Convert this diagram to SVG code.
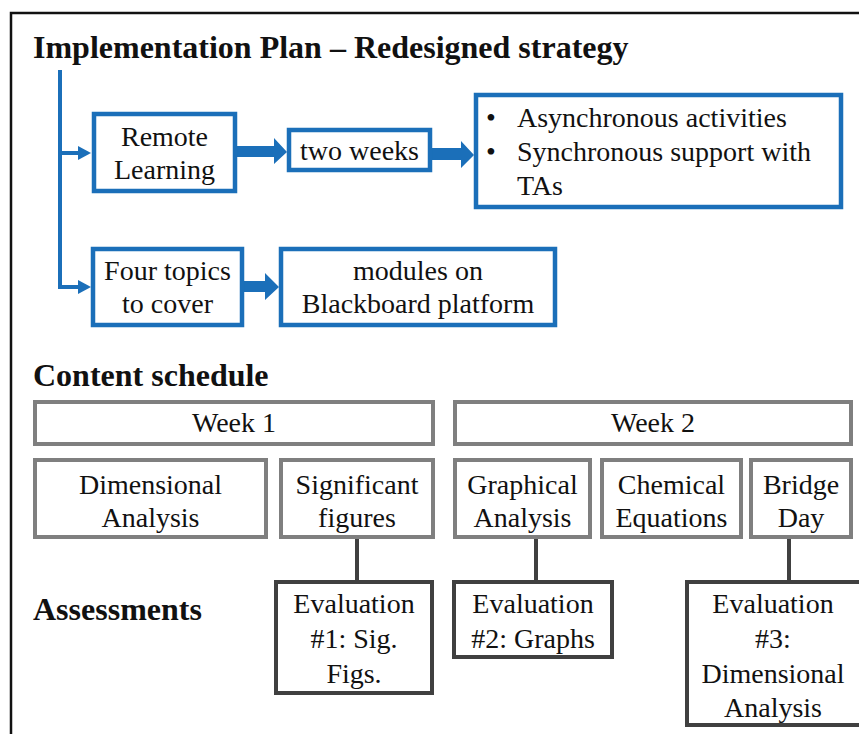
<svg xmlns="http://www.w3.org/2000/svg" width="859" height="734" viewBox="0 0 859 734">
<style>
text{font-family:'Liberation Serif','Times New Roman',Times,serif;fill:#111;}
.t{font-size:28px;text-anchor:middle;}
.l{font-size:28px;}
.h{font-size:32px;font-weight:bold;}
.b{fill:#fff;stroke:#1b6fb9;stroke-width:4.5;}
.g{fill:#fff;stroke:#7f7f7f;stroke-width:4;}
.e{fill:#fff;stroke:#404040;stroke-width:4;}
.bl{fill:none;stroke:#1b6fb9;stroke-width:4;}
.bf{fill:#1b6fb9;stroke:none;}
.ec{fill:none;stroke:#404040;stroke-width:4;}
</style>
<rect width="859" height="734" fill="#fff"/>
<path d="M11,734 V13 H859" fill="none" stroke="#111" stroke-width="2.5"/>
<text class="h" x="33" y="58">Implementation Plan – Redesigned strategy</text>
<text class="h" x="33" y="386">Content schedule</text>
<text class="h" x="33" y="620">Assessments</text>

<g id="connectors">
<path class="bl" d="M60,70 V287 H80"/>
<path class="bf" d="M78,280 L91,287 L78,294 z"/>
<path class="bl" d="M60,153 H80"/>
<path class="bf" d="M78,146 L91,153 L78,160 z"/>
<path class="bf" d="M236,146 H274 V138 L287,152 L274,164 V157 H236 z"/>
<path class="bf" d="M431,148 H461 V141 L474,155 L461,168 V160 H431 z"/>
<path class="bf" d="M243,281 H265 V273 L279,287 L265,300 V292 H243 z"/>
<path class="ec" d="M357,539 V580"/>
<path class="ec" d="M536,539 V580"/>
<path class="ec" d="M789,539 V580"/>
</g>

<g id="remote">
<rect class="b" x="94" y="114" width="141" height="77"/>
<text class="t" x="164.5" y="146">Remote</text>
<text class="t" x="164.5" y="179">Learning</text>
</g>
<g id="twoweeks">
<rect class="b" x="289" y="130" width="141" height="40"/>
<text class="t" x="359.5" y="160">two weeks</text>
</g>
<g id="activities">
<rect class="b" x="476" y="95" width="365" height="112"/>
<text class="l" x="486" y="127">•</text>
<text class="l" x="517" y="127">Asynchronous activities</text>
<text class="l" x="486" y="161">•</text>
<text class="l" x="517" y="161">Synchronous support with</text>
<text class="l" x="517" y="195">TAs</text>
</g>
<g id="fourtopics">
<rect class="b" x="93" y="249" width="149" height="76"/>
<text class="t" x="167.5" y="280">Four topics</text>
<text class="t" x="167.5" y="313">to cover</text>
</g>
<g id="modules">
<rect class="b" x="281" y="249" width="274" height="76"/>
<text class="t" x="418" y="280">modules on</text>
<text class="t" x="418" y="313">Blackboard platform</text>
</g>

<g id="week1">
<rect class="g" x="35" y="402" width="398" height="42"/>
<text class="t" x="234" y="432">Week 1</text>
</g>
<g id="week2">
<rect class="g" x="455" y="402" width="396" height="42"/>
<text class="t" x="653" y="432">Week 2</text>
</g>
<g id="dimensional">
<rect class="g" x="35" y="460" width="231" height="77"/>
<text class="t" x="150.5" y="494">Dimensional</text>
<text class="t" x="150.5" y="527">Analysis</text>
</g>
<g id="sigfigs">
<rect class="g" x="281" y="460" width="152" height="77"/>
<text class="t" x="357" y="494">Significant</text>
<text class="t" x="357" y="527">figures</text>
</g>
<g id="graphical">
<rect class="g" x="455" y="460" width="135" height="77"/>
<text class="t" x="522.5" y="494">Graphical</text>
<text class="t" x="522.5" y="527">Analysis</text>
</g>
<g id="chemical">
<rect class="g" x="602" y="460" width="139" height="77"/>
<text class="t" x="671.5" y="494">Chemical</text>
<text class="t" x="671.5" y="527">Equations</text>
</g>
<g id="bridge">
<rect class="g" x="751" y="460" width="100" height="77"/>
<text class="t" x="801" y="494">Bridge</text>
<text class="t" x="801" y="527">Day</text>
</g>

<g id="eval1">
<rect class="e" x="276" y="582" width="156" height="111"/>
<text class="t" x="354" y="613">Evaluation</text>
<text class="t" x="354" y="648">#1: Sig.</text>
<text class="t" x="354" y="683">Figs.</text>
</g>
<g id="eval2">
<rect class="e" x="454" y="582" width="158" height="75"/>
<text class="t" x="533" y="613">Evaluation</text>
<text class="t" x="533" y="648">#2: Graphs</text>
</g>
<g id="eval3">
<rect class="e" x="687" y="582" width="175" height="143"/>
<text class="t" x="773" y="613">Evaluation</text>
<text class="t" x="773" y="648">#3:</text>
<text class="t" x="773" y="683">Dimensional</text>
<text class="t" x="773" y="717">Analysis</text>
</g>
</svg>
